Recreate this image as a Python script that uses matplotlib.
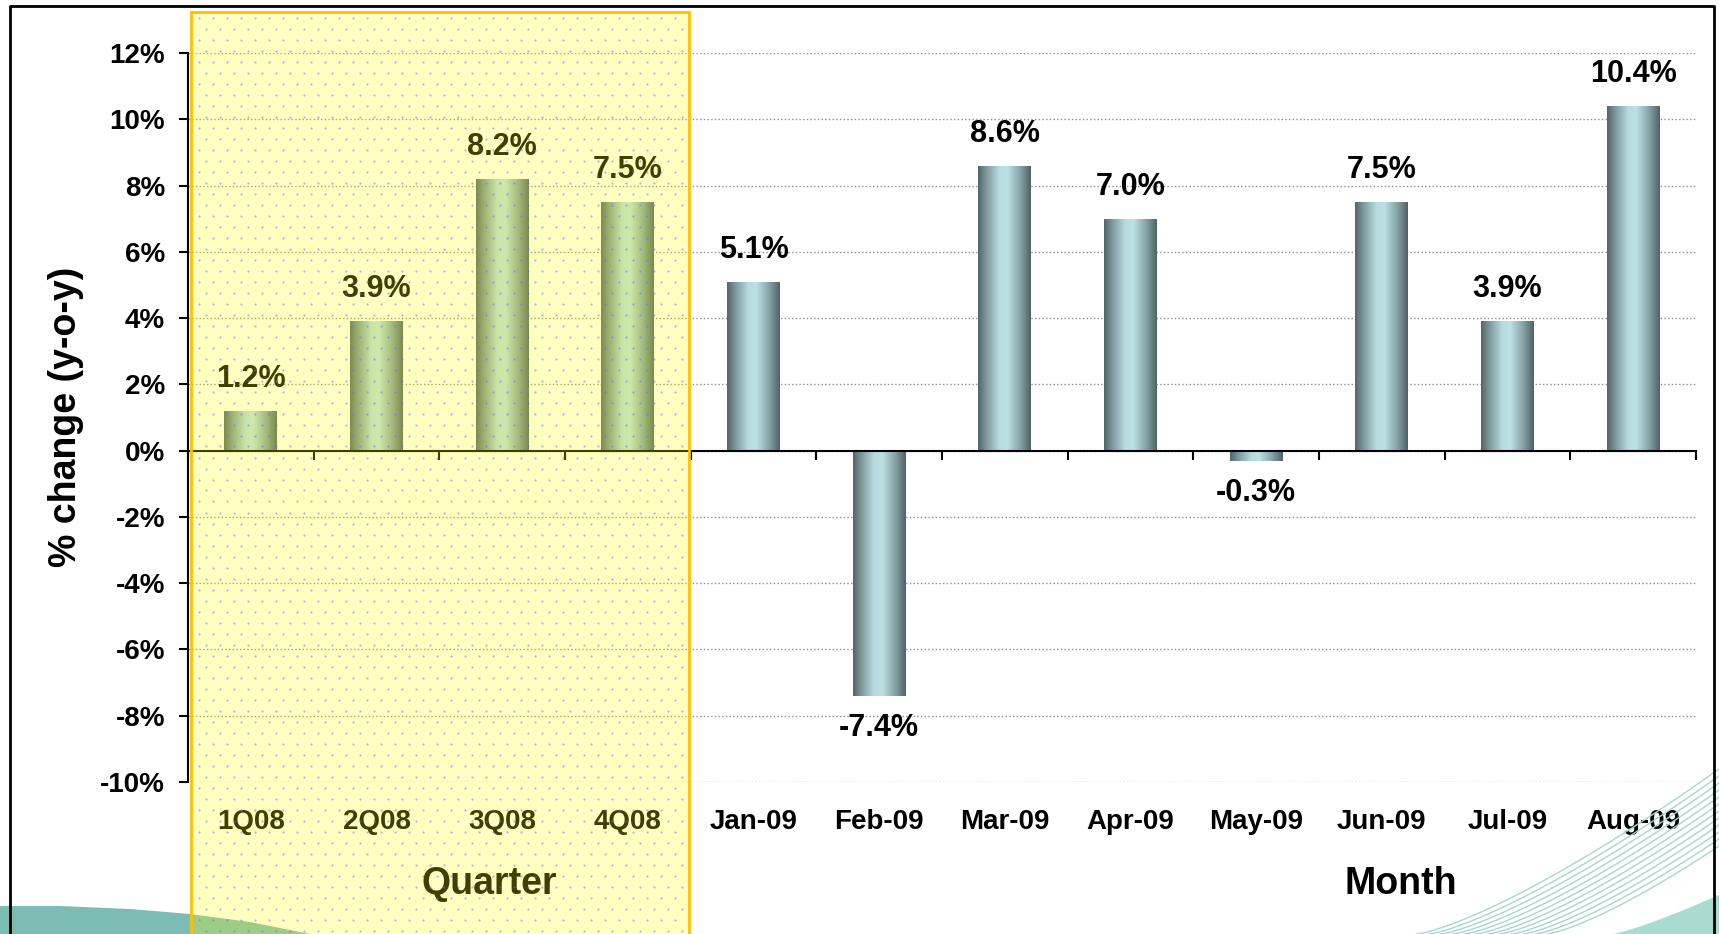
#Year-on-year % change chart: quarters of 2008, then months of 2009
import numpy as np
import matplotlib
matplotlib.use('Agg')
import matplotlib.pyplot as plt
import matplotlib.transforms as mtransforms
from matplotlib.colors import LinearSegmentedColormap
from matplotlib.patches import Rectangle, Polygon
from matplotlib.lines import Line2D
from matplotlib.ticker import FuncFormatter

quarters = ['1Q08', '2Q08', '3Q08', '4Q08']
months = ['Jan-09', 'Feb-09', 'Mar-09', 'Apr-09', 'May-09', 'Jun-09', 'Jul-09', 'Aug-09']
quarter_vals = [1.2, 3.9, 8.2, 7.5]
month_vals = [5.1, -7.4, 8.6, 7.0, -0.3, 7.5, 3.9, 10.4]
y_ticks = list(range(-10, 13, 2))

labels = quarters + months
values = quarter_vals + month_vals
x = np.arange(len(labels))

plt.rcParams['font.family'] = ['Liberation Sans', 'DejaVu Sans']
plt.rcParams['font.weight'] = 'bold'

W, H = 1719, 934
fig = plt.figure(figsize=(W / 100, H / 100), dpi=100)
fig.patch.set_facecolor('white')

# plot area (pixel positions)
ax_l, ax_r, ax_t, ax_b = 188, 1696, 53, 782
ax = fig.add_axes([ax_l / W, 1 - ax_b / H, (ax_r - ax_l) / W, (ax_b - ax_t) / H])
ax.set_facecolor('none')

# bars with a cylinder-like gradient
bars = ax.bar(x, values, width=0.42, color='#8fb0b4', zorder=3)
cmap = LinearSegmentedColormap.from_list('cyl', [
    (0.0, '#52656a'), (0.15, '#7c969a'), (0.4, '#b6dbde'),
    (0.55, '#bde2e5'), (0.8, '#86a3a6'), (1.0, '#4f6267')])
grad = np.linspace(0, 1, 256).reshape(1, -1)
for b in bars:
    x0, w = b.get_x(), b.get_width()
    y0, h = b.get_y(), b.get_height()
    im = ax.imshow(grad, extent=(x0, x0 + w, min(y0, y0 + h), max(y0, y0 + h)),
                   aspect='auto', cmap=cmap, zorder=3.1, interpolation='bilinear')
    im.set_clip_path(b)

ax.set_xlim(-0.5, len(labels) - 0.5)
ax.set_ylim(-10, 12)

# value labels
for xi, v in zip(x, values):
    off = 23 if v >= 0 else -23
    ax.annotate(f"{v:.1f}%", (xi, v), xytext=(0, off), textcoords='offset points',
                ha='center', va='center', fontsize=22, fontweight='bold', zorder=4)

# category labels below the plot
for xi, lab in zip(x, labels):
    ax.annotate(lab, (xi, -10), xytext=(0, -29), textcoords='offset points',
                ha='center', va='center', fontsize=20, fontweight='bold',
                annotation_clip=False)

# axes styling
for s in ['top', 'right']:
    ax.spines[s].set_visible(False)
ax.spines['left'].set_linewidth(1.5)
ax.spines['bottom'].set_position(('data', 0))
ax.spines['bottom'].set_linewidth(1.5)
ax.spines['bottom'].set_zorder(3.5)
ax.set_xticks(np.arange(-0.5, len(labels), 1))
ax.set_xticklabels([])
ax.tick_params(axis='x', direction='out', length=6.5, width=1.5)
ax.set_yticks(y_ticks)
ax.yaxis.set_major_formatter(FuncFormatter(lambda v, p: f"{int(round(v))}%"))
ax.tick_params(axis='y', direction='out', length=6.5, width=1.5, labelsize=20, pad=10)
ax.yaxis.grid(True, linestyle=':', color='#8c8c8c', linewidth=1)
ax.set_axisbelow(True)

# axis titles
blend = mtransforms.blended_transform_factory(ax.transData, fig.transFigure)
ax.text(1.9, 1 - 884 / H, 'Quarter', transform=blend, ha='center', va='center',
        fontsize=27, fontweight='bold')
ax.text(9.15, 1 - 884 / H, 'Month', transform=blend, ha='center', va='center',
        fontsize=27, fontweight='bold')
fig.text(66 / W, 1 - 417 / H, '% change (y-o-y)', rotation=90, ha='center', va='center',
         fontsize=27, fontweight='bold')

# yellow quarter highlight box (semi transparent, dotted)
box_x0 = 191 / W
box_x1 = 689 / W
box_top = 1 - 12 / H
fig.add_artist(Rectangle((box_x0, -0.02), box_x1 - box_x0, box_top + 0.02,
                         transform=fig.transFigure, facecolor=(1, 1, 0, 0.25),
                         edgecolor='#ffc000', linewidth=2, zorder=5))
dx, dy = 14, 11
px, py = [], []
for r, yy in enumerate(np.arange(12 + dy / 2, H, dy)):
    start = 191 + 8 + (dx / 2 if r % 2 else 0)
    for xx in np.arange(start, 689 - 3, dx):
        px.append(xx / W)
        py.append(1 - yy / H)
fig.add_artist(Line2D(px, py, ls='none', marker='o', ms=1.6, mew=0,
                      color=(0.39, 0.43, 1.0, 0.5), transform=fig.transFigure, zorder=6))

# background decorations
wave = [(0, 906), (60, 906), (130, 909), (190, 914), (250, 922), (310, 934), (0, 934)]
fig.add_artist(Polygon([(a / W, 1 - b / H) for a, b in wave], closed=True,
                       facecolor='#7dbcb5', edgecolor='none', transform=fig.transFigure, zorder=0.5))
for i in range(12):
    t = i / 11
    xs0 = 1417 + 130 * t
    amp = 165 - 77 * t
    xs = np.linspace(xs0, W, 80)
    ys = 934 - amp * ((xs - xs0) / (W - xs0)) ** 1.3
    fig.add_artist(Line2D(xs / W, 1 - ys / H, color='#a6d8cc', lw=1,
                          transform=fig.transFigure, zorder=0.5))
cx = np.linspace(1613, W, 30)
cy = 934 - 39 * ((cx - 1613) / (W - 1613)) ** 1.2
corner = list(zip(cx, cy)) + [(W, 934)]
fig.add_artist(Polygon([(a / W, 1 - b / H) for a, b in corner], closed=True,
                       facecolor='#a9dcd0', edgecolor='none', transform=fig.transFigure, zorder=0.6))

# outer frame
fig.add_artist(Line2D([10 / W, 10 / W, 1714 / W, 1714 / W], [0, 1 - 6 / H, 1 - 6 / H, 0],
                      color='black', lw=2, transform=fig.transFigure, zorder=7))

fig.savefig('out.png', dpi=100)
